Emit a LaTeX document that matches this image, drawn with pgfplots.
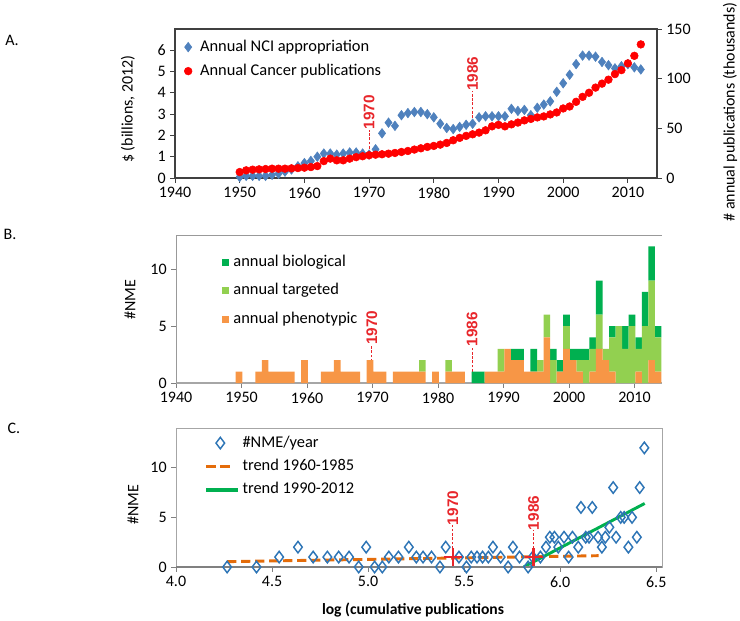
\documentclass[border=0pt]{standalone}
\usepackage{fontspec}
\setmainfont{Carlito}
\newfontfamily\arialfont{Liberation Sans}
\usepackage{pgfplots}
\usepackage{pgfplotstable}
\pgfplotsset{compat=1.18}

\definecolor{nciblue}{HTML}{4F81BD}
\definecolor{pubred}{HTML}{FF0000}
\definecolor{pheno}{HTML}{F79646}
\definecolor{targ}{HTML}{92D050}
\definecolor{bio}{HTML}{00B050}
\definecolor{nmeblue}{HTML}{2E75B6}
\definecolor{trendor}{HTML}{E46C0A}
\definecolor{annred}{HTML}{E8262B}

% NCI appropriation ($ billions) and cancer publications (thousands)
\pgfplotstableread{
year nci pubs
1950 0.05 6.0
1951 0.10 7.7
1952 0.10 8.4
1953 0.10 8.7
1954 0.10 9.0
1955 0.15 9.4
1956 0.20 9.4
1957 0.30 9.4
1958 0.40 9.7
1959 0.55 10.0
1960 0.70 10.4
1961 0.80 11.0
1962 1.00 12.0
1963 1.15 17.0
1964 1.15 19.5
1965 1.10 17.8
1966 1.15 17.8
1967 1.20 19.5
1968 1.20 21.0
1969 1.15 21.9
1970 1.10 22.9
1971 1.35 23.5
1972 2.10 23.9
1973 2.60 24.5
1974 2.45 25.2
1975 2.95 26.2
1976 3.05 27.2
1977 3.10 28.6
1978 3.10 29.9
1979 3.00 31.3
1980 2.85 32.3
1981 2.55 33.6
1982 2.35 35.3
1983 2.30 38.0
1984 2.40 40.4
1985 2.50 42.4
1986 2.55 44.0
1987 2.85 45.7
1988 2.90 48.0
1989 2.90 52.0
1990 2.90 53.5
1991 2.90 52.0
1992 3.25 54.0
1993 3.15 55.8
1994 3.20 58.0
1995 2.95 59.5
1996 3.30 61.0
1997 3.45 62.0
1998 3.60 64.0
1999 4.05 66.0
2000 4.45 70.0
2001 4.85 72.0
2002 5.35 76.7
2003 5.75 81.7
2004 5.75 85.8
2005 5.70 91.0
2006 5.45 95.0
2007 5.30 99.0
2008 5.15 104.6
2009 5.25 108.6
2010 5.35 115.4
2011 5.20 123.0
2012 5.10 134.5
}\tabA

% annual NMEs: phenotypic, targeted, biological
\pgfplotstableread{
year p t b
1949 1 0 0
1952 1 0 0
1953 2 0 0
1954 1 0 0
1955 1 0 0
1956 1 0 0
1957 1 0 0
1959 2 0 0
1962 1 0 0
1963 1 0 0
1964 2 0 0
1965 1 0 0
1966 1 0 0
1967 1 0 0
1969 2 0 0
1970 1 0 0
1971 1 0 0
1973 1 0 0
1974 1 0 0
1975 1 0 0
1976 1 0 0
1977 1 1 0
1979 1 0 0
1981 1 1 0
1982 1 0 0
1983 1 0 0
1985 0 0 1
1986 0 0 1
1987 1 0 0
1988 1 0 0
1989 1 2 0
1990 3 0 0
1991 2 0 1
1992 2 0 1
1993 1 0 0
1994 1 0 2
1995 1 1 0
1996 4 2 0
1997 0 2 1
1998 1 0 1
1999 3 2 1
2000 2 0 1
2001 1 1 1
2002 0 2 1
2003 1 2 1
2004 3 3 3
2005 2 1 0
2006 1 3 1
2007 0 5 0
2008 0 3 2
2009 0 5 1
2010 1 2 1
2011 0 5 3
2012 2 7 3
2013 1 3 1
}\tabB

\pgfplotsset{
  panel/.style={
    scale only axis,
    tick align=outside,
    major tick length=3.5pt,
    ticklabel style={font=\fontsize{12}{14}\selectfont},
    /pgf/number format/assume math mode=true,
    /pgf/number format/set thousands separator={},
    legend cell align=left,
    legend style={draw=none, fill=none, inner sep=0pt,
      font=\fontsize{12.3}{14}\selectfont,
      nodes={inner sep=1pt, text height=9pt, text depth=3pt}},
  },
  markimg/.style={legend image code/.code={\draw[##1] plot coordinates {(#1,0pt)};}},
  lineimg/.style={legend image code/.code={\draw[##1, line width=2.4pt] (0pt,0pt) -- (#1,0pt);}},
  boximg/.style={legend image code/.code={\fill[##1] (0pt,-2.6pt) rectangle (5pt,2.6pt);}},
}
\tikzset{
  ann/.style={annred, line width=0.8pt, dash pattern=on 2pt off 1.2pt},
  anntext/.style={annred, rotate=90, anchor=west, inner sep=0pt,
    font=\arialfont\bfseries\fontsize{11.5}{13}\selectfont},
}

\begin{document}
\begin{tikzpicture}
% fixed page: 740 x 621 px at 0.75pt per px
\useasboundingbox (0pt,0pt) rectangle (555pt,-465.75pt);

% ---------------- A ----------------
\begin{axis}[panel,
  at={(131.25pt,-133.5pt)}, anchor=south west,
  width=361.5pt, height=111.75pt,
  xmin=1940, xmax=2014.5, ymin=0, ymax=7,
  xtick={1940,1950,...,2010}, ytick={0,...,6},
  tick pos=left,
  axis line style={black!75, line width=0.9pt},
  tick style={black!75, line width=0.6pt},
  legend style={at={(axis cs:1941.4,6.6)}, anchor=north west,
    row sep=4pt, column sep=5pt},
  markimg=4pt,
]
\addplot[only marks, mark=diamond*, mark size=3.6pt, color=nciblue]
  table[x=year, y=nci] {\tabA};
\addlegendentry{Annual NCI appropriation}
\addlegendimage{only marks, mark=*, mark size=2.9pt, color=pubred}
\addlegendentry{Annual Cancer publications}
\draw[ann] (axis cs:1970,1.18) -- (axis cs:1970,2.27);
\node[anntext] at (axis cs:1970,2.27) {1970};
\draw[ann] (axis cs:1986,2.42) -- (axis cs:1986,4.08);
\node[anntext] at (axis cs:1986,4.08) {1986};
\end{axis}

\begin{axis}[panel,
  at={(131.25pt,-133.5pt)}, anchor=south west,
  width=361.5pt, height=111.75pt,
  xmin=1940, xmax=2014.5, ymin=0, ymax=150,
  axis x line=none, axis y line*=right,
  ytick={0,50,100,150},
  axis line style={black!75, line width=0.9pt},
  tick style={black!75, line width=0.6pt},
]
\addplot[only marks, mark=*, mark size=2.9pt, color=pubred]
  table[x=year, y=pubs] {\tabA};
\end{axis}

% ---------------- B ----------------
\begin{axis}[panel,
  at={(132pt,-287.25pt)}, anchor=south west,
  width=364.5pt, height=111pt,
  xmin=1940, xmax=2014.2, ymin=0, ymax=13,
  xtick={1940,1950,...,2010}, ytick={0,5,10},
  axis x line*=bottom, axis y line*=left,
  x axis line style={-, black!35, line width=1.6pt},
  y axis line style={-, black!40, line width=0.6pt},
  tick style={black!50, line width=0.6pt},
  ybar stacked, bar width=1,
  reverse legend,
  legend style={at={(axis cs:1947.0,11.46)}, anchor=north west,
    row sep=7.4pt, column sep=2.5pt},
  boximg,
]
\addplot[fill=pheno, draw=none] table[x expr=\thisrow{year}+0.62, y=p] {\tabB};
\addlegendentry{annual phenotypic}
\addplot[fill=targ, draw=none] table[x expr=\thisrow{year}+0.62, y=t] {\tabB};
\addlegendentry{annual targeted}
\addplot[fill=bio, draw=none] table[x expr=\thisrow{year}+0.62, y=b] {\tabB};
\addlegendentry{annual biological}
\draw[black!40, line width=0.6pt] (rel axis cs:0,1) -- (rel axis cs:1,1);
\draw[ann] (axis cs:1969.9,1.14) -- (axis cs:1969.9,3.34);
\node[anntext] at (axis cs:1969.9,3.34) {1970};
\draw[ann] (axis cs:1985.2,1.0) -- (axis cs:1985.2,3.2);
\node[anntext] at (axis cs:1985.2,3.2) {1986};
\end{axis}

% ---------------- C ----------------
\begin{axis}[panel,
  at={(132pt,-425.25pt)}, anchor=south west,
  width=364.5pt, height=104.25pt,
  xmin=4, xmax=6.53, ymin=0, ymax=14,
  xtick={4,4.5,...,6.5}, ytick={0,5,10},
  xticklabel style={/pgf/number format/.cd, fixed, fixed zerofill, precision=1},
  tick pos=left,
  axis line style={black!35, line width=0.6pt},
  tick style={black!50, line width=0.6pt},
  legend style={at={(axis cs:4.148,13.45)}, anchor=north west,
    row sep=3.6pt, column sep=1pt},
]
\addplot[only marks, mark=diamond, mark size=4.3pt, color=nmeblue,
  mark options={line width=1.1pt}, markimg=10.5pt]
  coordinates {
(4.266,0) (4.419,0) (4.537,1) (4.635,2) (4.714,1) (4.788,1) (4.847,1)
(4.901,1) (4.951,0) (4.990,2) (5.034,0) (5.074,0) (5.108,1) (5.158,1)
(5.212,2) (5.251,1) (5.286,1) (5.330,1) (5.374,0) (5.404,2) (5.473,1)
(5.512,0) (5.537,1) (5.567,1) (5.596,1) (5.626,1) (5.650,2) (5.690,1)
(5.729,0) (5.754,2) (5.788,1) (5.833,0) (5.857,1) (5.897,1) (5.926,2)
(5.946,3) (5.970,3) (5.990,2) (6.020,3) (6.044,1) (6.064,3) (6.094,2)
(6.108,6) (6.133,3) (6.150,3) (6.167,6) (6.197,3) (6.217,2) (6.235,3)
(6.256,4) (6.276,8) (6.291,3) (6.315,5) (6.333,5) (6.355,2) (6.374,5)
(6.399,3) (6.414,8) (6.438,12)
};
\addlegendentry{\#NME/year}
\addplot[trendor, line width=2.2pt, dash pattern=on 7pt off 3.5pt, lineimg=21pt]
  coordinates {(4.266,0.54) (6.2,1.14)};
\addlegendentry{trend 1960-1985}
\addplot[bio, line width=2.2pt, lineimg=24pt]
  coordinates {(5.81,0) (6.44,6.4)};
\addlegendentry{trend 1990-2012}
\draw[black!50, line width=1.2pt] (axis cs:4,0) -- (axis cs:6.53,0);
\addplot[only marks, mark=+, mark size=6.8pt, color=annred,
  mark options={line width=1.8pt}, forget plot]
  coordinates {(5.441,1) (5.862,1)};
\draw[ann] (axis cs:5.441,1) -- (axis cs:5.441,4.2);
\node[anntext] at (axis cs:5.441,4.2) {1970};
\draw[ann] (axis cs:5.862,1) -- (axis cs:5.862,3.7);
\node[anntext] at (axis cs:5.862,3.7) {1986};
\end{axis}

% ---------------- labels ----------------
\begin{scope}[x=0.75pt, y=-0.75pt, font=\fontsize{12}{14}\selectfont]
\node at (12,40) {A.};
\node at (10,234) {B.};
\node at (14,428) {C.};
\node[rotate=90] at (128,109) {\$ (billions, 2012)};
\node[rotate=90] at (730,112) {\# annual publications (thousands)};
\node[rotate=90] at (130,300) {\#NME};
\node[rotate=90] at (133,505) {\#NME};
\node[font=\bfseries\fontsize{11.7}{14}\selectfont] at (413,610)
  {log (cumulative publications};
\end{scope}

\end{tikzpicture}
\end{document}
